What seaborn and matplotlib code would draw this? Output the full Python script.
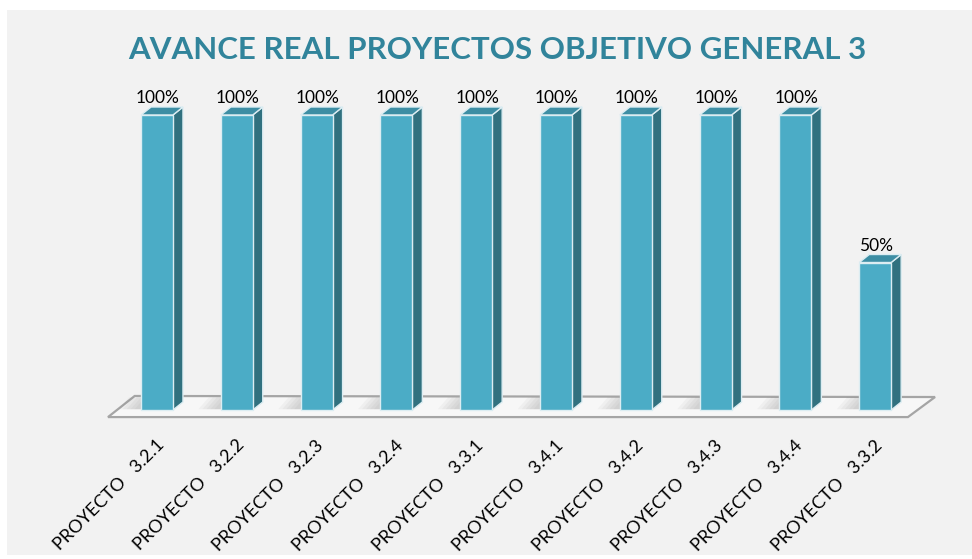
import matplotlib
matplotlib.use("Agg")
import matplotlib.pyplot as plt
from matplotlib.patches import Polygon, Rectangle
import seaborn as sns
import pandas as pd

categories = ["PROYECTO   3.2.1", "PROYECTO   3.2.2", "PROYECTO   3.2.3", "PROYECTO   3.2.4",
              "PROYECTO   3.3.1", "PROYECTO   3.4.1", "PROYECTO   3.4.2", "PROYECTO   3.4.3",
              "PROYECTO   3.4.4", "PROYECTO   3.3.2"]
values = [100, 100, 100, 100, 100, 100, 100, 100, 100, 50]
value_labels = ["100%", "100%", "100%", "100%", "100%", "100%", "100%", "100%", "100%", "50%"]
title = "AVANCE REAL PROYECTOS OBJETIVO GENERAL 3"

FRONT = "#4bacc6"
SIDE = "#31717f"
TOP = "#3d8ea4"
EDGE = "#dcedf2"
TITLE_C = "#31849b"

text_font = ["Lato", "DejaVu Sans"]

sns.set_theme(style="white")
plt.rcParams["font.family"] = text_font

fig = plt.figure(figsize=(9.72, 5.59), dpi=100, facecolor="white")
fig.patches.append(Rectangle((7 / 972, 4 / 559), 965 / 972, 545 / 559, transform=fig.transFigure,
                             facecolor="#f2f2f2", edgecolor="none", zorder=0))
ax = fig.add_axes([0, 0, 1, 1], zorder=2)
ax.set_facecolor("none")

df = pd.DataFrame({"cat": categories, "val": values})
sns.barplot(data=df, x="cat", y="val", color=FRONT, width=0.4, saturation=1,
            edgecolor=EDGE, linewidth=1.0, ax=ax, zorder=4)
bars = list(ax.patches)

# pixel mapping: x_px = 157 + 79.8*i ; y_px = 410 - 2.95*v
ax.set_xlim(-157 / 79.8, (972 - 157) / 79.8)
ax.set_ylim((410 - 559) / 2.95, 410 / 2.95)
ax.axis("off")

px = 1 / 79.8
pv = 1 / 2.95
dx, dy = 10 * px, 8 * pv

# floor
floor = Polygon([(-0.614, -2.4), (-0.28, 4.75), (9.75, 4.4), (9.41, -2.4)], closed=True,
                facecolor="#f7f7f7", edgecolor="#a5a5a5", linewidth=1.6, zorder=1)
ax.add_patch(floor)

for i, p in enumerate(bars):
    x0 = p.get_x()
    w = p.get_width()
    h = p.get_height()
    # soft shadow on floor
    for k in range(5):
        s = Polygon([(x0 - 0.28 + k * 0.05, 0.3), (x0 - 0.15 + k * 0.05, 4.3),
                     (x0 + w + dx, 4.3), (x0 + w, 0.3)], closed=True,
                    facecolor="#6f6f6f", edgecolor="none", alpha=0.06, zorder=2)
        ax.add_patch(s)
    side = Polygon([(x0 + w, 0), (x0 + w + dx, dy), (x0 + w + dx, h + dy), (x0 + w, h)],
                   closed=True, facecolor=SIDE, edgecolor=EDGE, linewidth=1.0, zorder=3)
    top = Polygon([(x0, h), (x0 + dx, h + dy), (x0 + w + dx, h + dy), (x0 + w, h)],
                  closed=True, facecolor=TOP, edgecolor=EDGE, linewidth=1.0, zorder=3)
    ax.add_patch(side)
    ax.add_patch(top)
    cx = x0 + w / 2
    ax.text(cx + 1 * px, h + 3.0, value_labels[i], ha="center", va="bottom",
            fontsize=12.5, color="black", zorder=5)
    ax.text(cx - 1 * px, (410 - 437) * pv, categories[i], rotation=45, rotation_mode="anchor",
            ha="right", va="top", fontsize=13, color="black")

fig.text(497 / 972, 1 - 50 / 559, title, ha="center", va="center", fontsize=22.5,
         fontweight="bold", color=TITLE_C)

fig.savefig("out.png", dpi=100, facecolor="white")
